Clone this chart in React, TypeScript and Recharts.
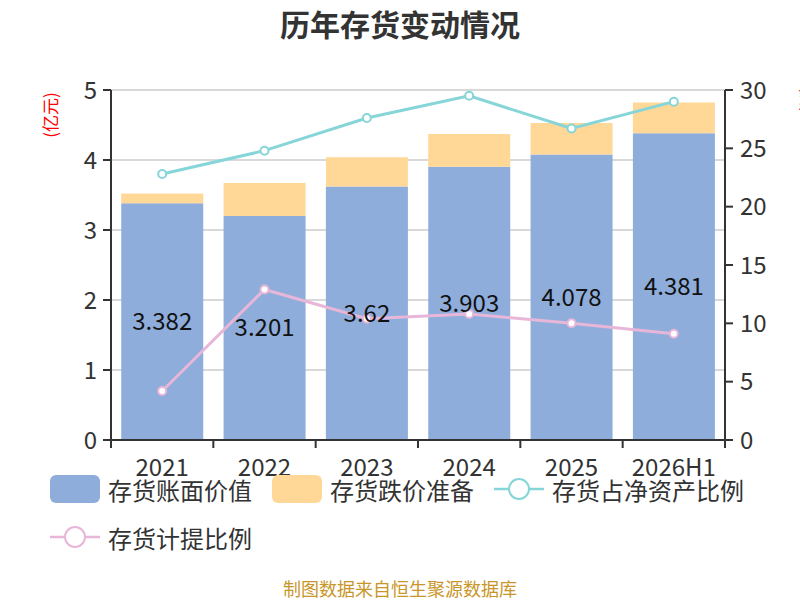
import React from "react";
import {
  Bar,
  CartesianGrid,
  ComposedChart,
  LabelList,
  Line,
  XAxis,
  YAxis,
} from "recharts";

// categories and values
const years = ["2021", "2022", "2023", "2024", "2025", "2026H1"];
const bookValue = [3.382, 3.201, 3.62, 3.903, 4.078, 4.381];
const impairment = [0.14, 0.47, 0.42, 0.47, 0.45, 0.44];
const netAssetRatio = [22.8, 24.8, 27.6, 29.5, 26.7, 29.0];
const provisionRatio = [4.2, 12.9, 10.4, 10.8, 10.0, 9.1];

const seriesNames = ["存货账面价值", "存货跌价准备", "存货占净资产比例", "存货计提比例"];
const leftTicks = [0, 1, 2, 3, 4, 5];
const rightTicks = [0, 5, 10, 15, 20, 25, 30];

const data = years.map((year, i) => ({
  year,
  book: bookValue[i],
  impairment: impairment[i],
  netRatio: netAssetRatio[i],
  provRatio: provisionRatio[i],
}));

const FONT = '"Noto Sans CJK SC", "Noto Sans", sans-serif';
const BLUE = "#8EADDB";
const ORANGE = "#FFD898";
const CYAN = "#86D5D8";
const PINK = "#E8B6D9";
const AXIS = "#333";

// half of one category band, so ticks sit on the category boundaries
const HALF_BAND = (725 - 111) / years.length / 2;

const XTick = (props: any) => {
  const { x, y, payload, index } = props;
  return (
    <g>
      <line x1={x - HALF_BAND} y1={y} x2={x - HALF_BAND} y2={y + 8} stroke={AXIS} strokeWidth={2} />
      {index === years.length - 1 && (
        <line x1={x + HALF_BAND} y1={y} x2={x + HALF_BAND} y2={y + 8} stroke={AXIS} strokeWidth={2} />
      )}
      <text x={x} y={y + 36} textAnchor="middle" fontSize={24} fill={AXIS} fontFamily={FONT}>
        {payload.value}
      </text>
    </g>
  );
};

const LegendIcon = ({ kind, color }: { kind: "rect" | "line"; color: string }) => (
  <svg width={50} height={28} style={{ flex: "none" }}>
    {kind === "rect" ? (
      <rect x={0} y={0} width={50} height={28} rx={6} fill={color} />
    ) : (
      <g>
        <line x1={0} y1={14} x2={50} y2={14} stroke={color} strokeWidth={2.5} />
        <circle cx={25} cy={14} r={10} fill="#fff" stroke={color} strokeWidth={2} />
      </g>
    )}
  </svg>
);

export default function App() {
  const legendItems = [
    { name: seriesNames[0], kind: "rect" as const, color: BLUE },
    { name: seriesNames[1], kind: "rect" as const, color: ORANGE },
    { name: seriesNames[2], kind: "line" as const, color: CYAN },
    { name: seriesNames[3], kind: "line" as const, color: PINK },
  ];

  return (
    <div
      style={{
        position: "absolute",
        left: 0,
        top: 0,
        width: 800,
        height: 600,
        background: "#fff",
        fontFamily: FONT,
        overflow: "hidden",
      }}
    >
      <div
        style={{
          position: "absolute",
          top: 8,
          left: 0,
          width: 800,
          height: 30,
          lineHeight: "30px",
          textAlign: "center",
          fontSize: 30,
          fontWeight: "bold",
          color: "#333",
        }}
      >
        历年存货变动情况
      </div>

      <ComposedChart
        width={800}
        height={600}
        data={data}
        margin={{ top: 90, right: 0, left: 0, bottom: 130 }}
        barCategoryGap="10%"
      >
        <CartesianGrid yAxisId="left" vertical={false} stroke="#ccc" strokeWidth={1.5} />
        <XAxis
          dataKey="year"
          height={30}
          tickSize={0}
          tickMargin={0}
          tick={<XTick />}
          interval={0}
          axisLine={{ stroke: AXIS, strokeWidth: 2 }}
        />
        <YAxis
          yAxisId="left"
          orientation="left"
          width={111}
          domain={[0, 5]}
          ticks={leftTicks}
          tickSize={8}
          tickMargin={6}
          tick={{ fontSize: 24, fill: AXIS, fontFamily: FONT }}
          tickLine={{ stroke: AXIS, strokeWidth: 2 }}
          axisLine={{ stroke: AXIS, strokeWidth: 2 }}
        />
        <YAxis
          yAxisId="right"
          orientation="right"
          width={75}
          domain={[0, 30]}
          ticks={rightTicks}
          tickSize={8}
          tickMargin={7}
          tick={{ fontSize: 24, fill: AXIS, fontFamily: FONT }}
          tickLine={{ stroke: AXIS, strokeWidth: 2 }}
          axisLine={{ stroke: AXIS, strokeWidth: 2 }}
        />
        <Bar yAxisId="left" dataKey="book" stackId="a" fill={BLUE} isAnimationActive={false}>
          <LabelList dataKey="book" position="center" fontSize={24} fill="#111" fontFamily={FONT} />
        </Bar>
        <Bar yAxisId="left" dataKey="impairment" stackId="a" fill={ORANGE} isAnimationActive={false} />
        <Line
          yAxisId="right"
          dataKey="netRatio"
          stroke={CYAN}
          strokeWidth={3}
          dot={{ r: 4, fill: "#fff", stroke: CYAN, strokeWidth: 2 }}
          activeDot={false}
          isAnimationActive={false}
        />
        <Line
          yAxisId="right"
          dataKey="provRatio"
          stroke={PINK}
          strokeWidth={3}
          dot={{ r: 4, fill: "#fff", stroke: PINK, strokeWidth: 2 }}
          activeDot={false}
          isAnimationActive={false}
        />
        <text
          x={49}
          y={115}
          transform="rotate(-90 49 115)"
          textAnchor="middle"
          dominantBaseline="central"
          fontSize={17}
          fill="red"
          fontFamily={FONT}
        >
          (亿元)
        </text>
        <text
          x={805}
          y={100}
          transform="rotate(-90 805 100)"
          textAnchor="middle"
          dominantBaseline="central"
          fontSize={17}
          fill="red"
          fontFamily={FONT}
        >
          (%)
        </text>
      </ComposedChart>

      <div
        style={{
          position: "absolute",
          left: 50,
          top: 475,
          width: 720,
          display: "flex",
          flexWrap: "wrap",
          columnGap: 20,
          rowGap: 20,
        }}
      >
        {legendItems.map((item) => (
          <div key={item.name} style={{ display: "flex", alignItems: "center", height: 28, gap: 8 }}>
            <LegendIcon kind={item.kind} color={item.color} />
            <span style={{ fontSize: 24, color: "#333", whiteSpace: "nowrap" }}>{item.name}</span>
          </div>
        ))}
      </div>

      <div
        style={{
          position: "absolute",
          top: 577,
          left: 0,
          width: 800,
          textAlign: "center",
          fontSize: 18,
          lineHeight: "22px",
          color: "#C9962A",
        }}
      >
        制图数据来自恒生聚源数据库
      </div>
    </div>
  );
}
